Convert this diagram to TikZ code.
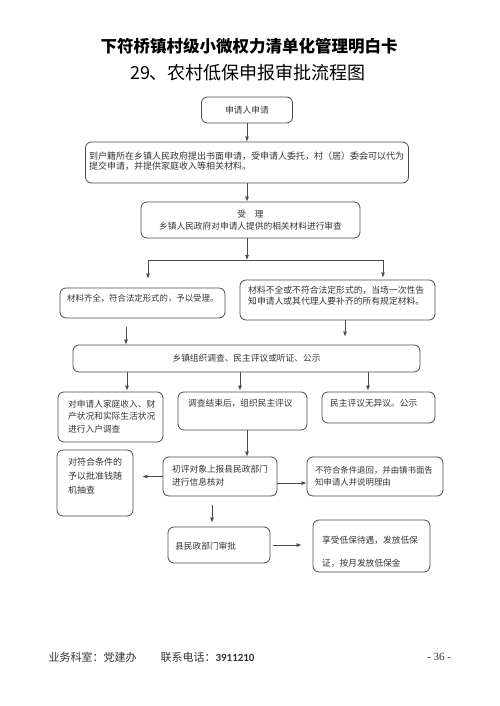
\documentclass[tikz,border=0pt]{standalone}
\usepackage{fontspec}
\setmainfont{Noto Sans CJK SC}
\newfontfamily\numfont{Carlito}
\newfontfamily\pagefont{Liberation Serif}
\usepackage{tikz}
\usetikzlibrary{arrows.meta}
\usepackage{xcolor}
\definecolor{linegray}{HTML}{4A4A4A}
\definecolor{textgray}{HTML}{333333}
\newcommand\fs[2]{\fontsize{#1}{#2}\selectfont}
\tikzset{
  flowbox/.style={draw=linegray, line width=0.8pt, rounded corners=6pt, inner sep=0pt,
    text=textgray, font=\fs{8.7}{12}, align=center},
  flowarrow/.style={-{Latex[length=5pt,width=4pt]}, line width=0.7pt, draw=linegray},
  boxtext/.style={inner sep=0pt, text=textgray, anchor=west, align=left},
}

\begin{document}
\begin{tikzpicture}[x=1pt, y=-1pt]
  \useasboundingbox (0,0) rectangle (499,706);
  % heading
  \node[font=\fs{16.5}{20}\bfseries] (title) at (249,46) {下符桥镇村级小微权力清单化管理明白卡};
  \node[font=\fs{18}{22}] (subtitle) at (248,73) {29、农村低保申报审批流程图};
  % boxes
  \node[flowbox, minimum width=91pt, minimum height=26pt] (b1) at (247,110) {申请人申请};
  \node[flowbox, minimum width=323pt, minimum height=41pt] (b2) at (247,162.5) {};
  \node[flowbox, minimum width=219pt, minimum height=36pt] (b3) at (250.5,220) {受\quad 理\\乡镇人民政府对申请人提供的相关材料进行审查};
  \node[flowbox, minimum width=165pt, minimum height=30pt] (b4) at (142.5,303) {};
  \node[flowbox, minimum width=195pt, minimum height=40pt] (b5) at (337.5,300) {};
  \node[flowbox, minimum width=347pt, minimum height=27pt] (b6) at (246.5,358.5) {乡镇组织调查、民主评议或听证、公示};
  \node[flowbox, minimum width=105pt, minimum height=50pt] (b7) at (110.5,417) {};
  \node[flowbox, minimum width=129pt, minimum height=38pt] (b8) at (242.5,411) {};
  \node[flowbox, minimum width=113pt, minimum height=31pt] (b9) at (378.5,407.5) {};
  \node[flowbox, minimum width=114pt, minimum height=39pt] (b10) at (220,476.5) {};
  \node[flowbox, minimum width=76pt, minimum height=66pt] (b11) at (95,483) {};
  \node[flowbox, minimum width=136pt, minimum height=39pt] (b12) at (375,476.5) {};
  \node[flowbox, minimum width=102pt, minimum height=36pt] (b13) at (219,545) {};
  \node[flowbox, minimum width=117pt, minimum height=52pt] (b14) at (371.5,546) {};
  % box texts
  \node[boxtext, font=\fs{9}{10.5}] (t2) at (89,161) {到户籍所在乡镇人民政府提出书面申请，受申请人委托，村（居）委会可以代为\\提交申请，并提供家庭收入等相关材料。};
  \node[boxtext, font=\fs{8.4}{11}] (t4) at (67,298) {材料齐全，符合法定形式的，予以受理。};
  \node[boxtext, font=\fs{8.8}{11}] (t5) at (248,296) {材料不全或不符合法定形式的，当场一次性告\\知申请人或其代理人要补齐的所有规定材料。};
  \node[boxtext, font=\fs{8.7}{12.5}] (t7) at (68,416.5) {对申请人家庭收入、财\\产状况和实际生活状况\\进行入户调查};
  \node[boxtext, font=\fs{8.7}{11}] (t8) at (188,403) {调查结束后，组织民主评议};
  \node[boxtext, font=\fs{8.7}{11}] (t9) at (330,403) {民主评议无异议。公示};
  \node[boxtext, font=\fs{8.7}{13}] (t10) at (172,475.5) {初评对象上报县民政部门\\进行信息核对};
  \node[boxtext, font=\fs{9}{14}] (t11) at (68,476) {对符合条件的\\予以批准钱随\\机抽查};
  \node[boxtext, font=\fs{8.4}{12}] (t12) at (315,476) {不符合条件退回，并由镇书面告\\知申请人并说明理由};
  \node[boxtext, font=\fs{8.7}{11}] (t13) at (175,546) {县民政部门审批};
  \node[boxtext, font=\fs{8.7}{23}] (t14) at (322,551.5) {享受低保待遇，发放低保\\证，按月发放低保金};
  % connectors
  \coordinate (split) at (247,260);
  \draw[flowarrow] (b1.south) -- (b1.south |- b2.north);
  \draw[flowarrow] (b2.south) -- (b2.south |- b3.north);
  \draw[flowarrow] (b3.south -| split) -- (split);
  \draw[flowarrow, shorten >=9pt] (split) -| ([xshift=5.5pt]b4.north);
  \draw[flowarrow, shorten >=2pt] (split) -| ([xshift=45.5pt]b5.north);
  \draw[flowarrow, shorten <=9pt] ([xshift=-16.5pt]b4.south) -- ([xshift=-16.5pt]b4.south |- b6.north);
  \draw[flowarrow, shorten >=8pt] ([xshift=7.5pt]b5.south) -- ([xshift=7.5pt]b5.south |- b6.north);
  \foreach \b/\dx in {b7/16.5, b8/-2.5, b9/-10.5}
    \draw[flowarrow, shorten >=1pt] ([xshift=\dx pt]\b.north |- b6.south) -- ([xshift=\dx pt]\b.north);
  \draw[flowarrow] ([xshift=4.5pt]b8.south) -- ([xshift=4.5pt]b8.south |- b10.north);
  \draw[flowarrow, shorten >=9pt] (b10.west) -- (b10.west -| b11.east);
  \draw[flowarrow] ([yshift=-6.5pt]b10.east) -- ([yshift=-6.5pt]b10.east -| b12.west);
  \draw[flowarrow, shorten <=9pt, shorten >=4pt] ([xshift=-8pt]b10.south) -- ([xshift=-8pt]b10.south |- b13.north);
  \draw[flowarrow, shorten <=3pt, shorten >=11pt] (b13.east) -- (b13.east -| b14.west);
  % footer
  \node[anchor=west, font=\fs{11}{13}, text=textgray] (dept) at (45,657) {业务科室：党建办};
  \node[anchor=west, font=\fs{11}{13}, text=textgray] (tel) at (157,657) {联系电话：{\numfont\bfseries 3911210}};
  \node[font=\pagefont\fs{11}{13}, text=textgray] (page) at (439,657) {- 36 -};
\end{tikzpicture}
\end{document}
